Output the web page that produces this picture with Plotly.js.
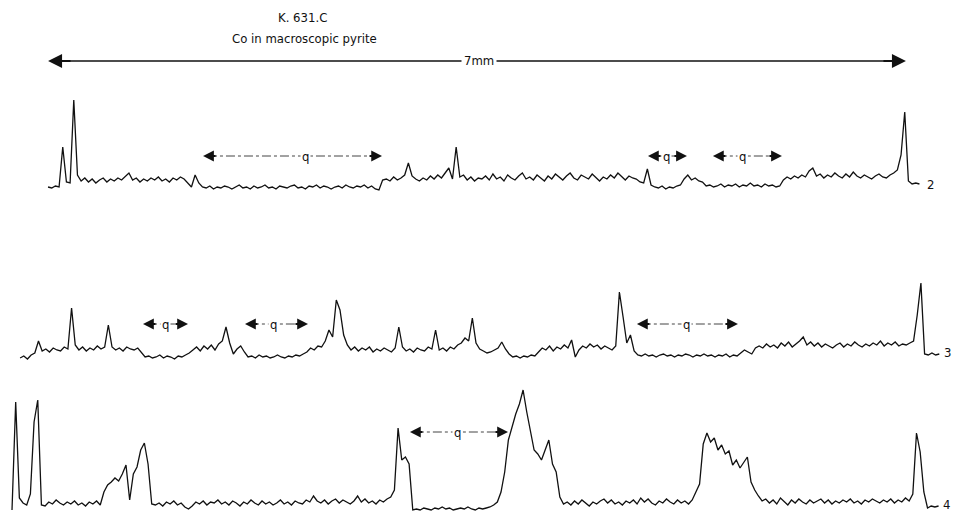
<!DOCTYPE html>
<html><head><meta charset="utf-8">
<script src="https://cdn.plot.ly/plotly-3.0.1.min.js"></script>
<style>html,body{margin:0;padding:0;background:#fff}#chart{width:954px;height:516px}</style>
</head><body><div id="chart"></div>
<script>
// Co intensity scans across macroscopic pyrite (arbitrary units), sampled every 30 µm
const scanStepUm = 30;
const scan2StartUm = 0;
const scan3StartUm = -228;
const scan4StartUm = -294;

const scan2 = [8,7,9,8,48,13,12,95,20,
14,17,13,16,12,15,17,13,16,14,17,15,19,22,15,17,13,16,14,17,15,18,14,16,13,17,15,18,16,12,
8,20,12,8,
7,9,6,8,7,9,8,6,8,10,7,8,6,9,7,8,10,7,8,6,9,8,7,9,10,7,8,6,9,8,10,7,9,8,6,8,9,7,10,8,7,9,8,10,7,9,6,5,
15,16,14,18,15,17,20,32,19,16,14,17,15,19,16,20,17,22,27,16,48,18,20,15,18,14,17,
16,19,15,21,16,18,14,20,17,15,19,22,16,18,15,20,17,14,19,16,21,18,15,19,22,17,15,20,18,16,21,17,14,18,16,20,17,22,18,15,19,17,16,13,12,
26,10,8,7,9,6,8,7,9,10,16,20,15,17,14,13,
9,10,8,9,11,8,10,9,11,8,10,9,12,9,10,8,11,9,10,8,9,
15,18,16,19,17,20,18,24,27,19,21,17,20,18,22,19,17,21,18,23,19,17,20,18,16,19,21,18,17,20,22,25,40,83,14,11,12,11];

const scan3 = [7,9,6,10,12,24,14,16,13,17,15,14,18,16,
57,
20,15,18,14,17,15,19,16,18,
40,
18,15,17,14,18,16,15,17,13,
8,9,7,8,10,7,9,8,6,9,8,10,12,
15,18,14,19,16,20,15,21,24,38,22,11,16,19,13,
8,9,7,10,8,9,7,8,10,8,7,9,8,10,9,11,13,
17,15,19,18,24,35,28,65,55,30,20,15,18,14,17,15,18,13,16,14,17,15,13,17,
38,18,14,16,13,17,15,14,18,16,35,15,17,14,18,16,20,22,27,24,47,22,16,14,12,13,15,17,23,16,11,8,
9,7,9,8,10,9,13,17,15,19,14,18,16,20,17,25,8,15,19,17,21,18,20,16,19,17,15,19,73,48,22,30,14,
10,9,11,9,10,8,10,11,9,10,8,10,9,11,10,8,10,9,11,9,10,8,10,9,11,8,10,9,
12,15,13,11,17,19,17,21,18,20,17,22,19,23,18,21,24,28,20,23,19,22,18,21,19,17,20,22,18,21,19,23,20,18,21,19,22,20,24,19,22,20,23,19,21,20,22,24,50,82,11,10,12,10,11];

const scan4 = [2,110,14,9,7,18,90,112,7,
6,10,8,12,9,7,10,8,11,7,9,6,10,8,11,7,
20,27,30,34,31,38,47,12,38,45,62,69,48,8,
7,9,6,10,8,11,7,9,5,3,6,10,8,11,7,10,9,12,8,10,7,11,9,6,10,8,12,9,7,11,8,10,7,9,12,8,10,7,11,9,8,12,10,16,11,9,12,8,11,13,9,12,10,8,11,16,10,13,9,11,8,12,10,13,15,
22,84,52,55,48,2,
3,2,4,3,2,4,3,5,3,4,2,3,4,3,5,3,2,4,3,4,5,7,10,
20,40,72,85,98,108,122,100,80,62,58,52,62,72,48,40,15,8,
10,7,11,8,12,9,6,10,8,11,13,9,12,8,10,7,11,9,12,8,14,10,13,9,7,11,9,13,10,8,12,9,11,8,12,
20,28,68,79,70,74,62,67,58,61,47,52,44,50,55,30,22,16,11,
13,9,12,8,14,10,7,12,9,13,10,8,12,9,11,13,9,12,8,11,9,12,10,13,9,11,8,12,10,13,11,9,12,10,13,9,12,10,14,11,
18,79,60,20,4,6,5,6];

const scanLabels = ["2","3","4"];
const scaleBarUm = [0, 7000];
const scaleBarText = "7mm";
const titleLines = ["K. 631.C", "Co in macroscopic pyrite"];

// quiet zones "q" per scan: [start µm, label µm, end µm]
const qZones2 = [[1265,2097,2725],[4895,5050,5213],[5425,5670,5988]];
const qZones3 = [[775,955,1142],[1607,1836,2121],[4805,5213,5629]];
const qZones4 = [[2953,3337,3753]];

function positions(start, n){ const a=[]; for(let i=0;i<n;i++) a.push(start+i*scanStepUm); return a; }

const lineStyle = {color:'#111', width:1.3};
const traces = [
  {x:positions(scan2StartUm, scan2.length), y:scan2, xaxis:'x', yaxis:'y', mode:'lines', line:lineStyle, hoverinfo:'skip'},
  {x:positions(scan3StartUm, scan3.length), y:scan3, xaxis:'x', yaxis:'y2', mode:'lines', line:lineStyle, hoverinfo:'skip'},
  {x:positions(scan4StartUm, scan4.length), y:scan4, xaxis:'x', yaxis:'y3', mode:'lines', line:lineStyle, hoverinfo:'skip'}
];

const H = 516;
const py = r => 1 - r/H;
const font = {family:'"DejaVu Sans Condensed", "Liberation Sans Narrow", "Liberation Sans", sans-serif', size:13, color:'#111'};
const shapes = [];
const annotations = [];
const txt = (o) => Object.assign({showarrow:false, xanchor:'center', yanchor:'middle', font:font}, o);

annotations.push(txt({xref:'paper', yref:'paper', x:302/954, y:py(18), text:titleLines[0]}));
annotations.push(txt({xref:'paper', yref:'paper', x:304/954, y:py(38), text:titleLines[1]}));

// scale bar
const sbY = py(61);
shapes.push({type:'line', xref:'x', yref:'paper', x0:scaleBarUm[0]+60, x1:scaleBarUm[1]-60, y0:sbY, y1:sbY, line:{color:'#111', width:1.6}});
annotations.push(txt({xref:'x', yref:'paper', x:(scaleBarUm[0]+scaleBarUm[1])/2 + 20, y:sbY, text:scaleBarText, bgcolor:'#fff', borderpad:2}));
annotations.push({xref:'x', yref:'paper', x:scaleBarUm[0], y:sbY, text:'', showarrow:true, axref:'pixel', ayref:'pixel', ax:24, ay:0, arrowhead:2, arrowsize:1.4, arrowwidth:2, arrowcolor:'#111'});
annotations.push({xref:'x', yref:'paper', x:scaleBarUm[1], y:sbY, text:'', showarrow:true, axref:'pixel', ayref:'pixel', ax:-24, ay:0, arrowhead:2, arrowsize:1.4, arrowwidth:2, arrowcolor:'#111'});

function addQ(zones, row){
  const yy = py(row);
  zones.forEach(z => {
    shapes.push({type:'line', xref:'x', yref:'paper', x0:z[0]+40, x1:z[2]-40, y0:yy, y1:yy, line:{color:'#444', width:1, dash:'dashdot'}});
    annotations.push(txt({xref:'x', yref:'paper', x:z[1], y:yy, text:'q', bgcolor:'#fff', borderpad:1}));
    annotations.push({xref:'x', yref:'paper', x:z[0], y:yy, text:'', showarrow:true, axref:'pixel', ayref:'pixel', ax:14, ay:0, arrowhead:2, arrowsize:1.2, arrowwidth:1.8, arrowcolor:'#111'});
    annotations.push({xref:'x', yref:'paper', x:z[2], y:yy, text:'', showarrow:true, axref:'pixel', ayref:'pixel', ax:-14, ay:0, arrowhead:2, arrowsize:1.2, arrowwidth:1.8, arrowcolor:'#111'});
  });
}
addQ(qZones2, 156);
addQ(qZones3, 324);
addQ(qZones4, 432);

annotations.push(txt({xref:'paper', yref:'paper', x:930/954, y:py(185), text:scanLabels[0]}));
annotations.push(txt({xref:'paper', yref:'paper', x:947/954, y:py(352), text:scanLabels[1]}));
annotations.push(txt({xref:'paper', yref:'paper', x:946/954, y:py(504), text:scanLabels[2]}));

const hidden = {visible:false, fixedrange:true};
const layout = {
  width:954, height:516, margin:{l:0,r:0,t:0,b:0},
  paper_bgcolor:'#fff', plot_bgcolor:'#fff', showlegend:false,
  xaxis:Object.assign({range:[-392, 7392]}, hidden),
  yaxis:Object.assign({range:[0,100], domain:[py(195), py(95)], anchor:'x'}, hidden),
  yaxis2:Object.assign({range:[0,100], domain:[py(365), py(265)], anchor:'x'}, hidden),
  yaxis3:Object.assign({range:[0,130], domain:[py(512), py(382)], anchor:'x'}, hidden),
  shapes:shapes, annotations:annotations
};
Plotly.newPlot('chart', traces, layout, {staticPlot:true, displayModeBar:false});
</script></body></html>
